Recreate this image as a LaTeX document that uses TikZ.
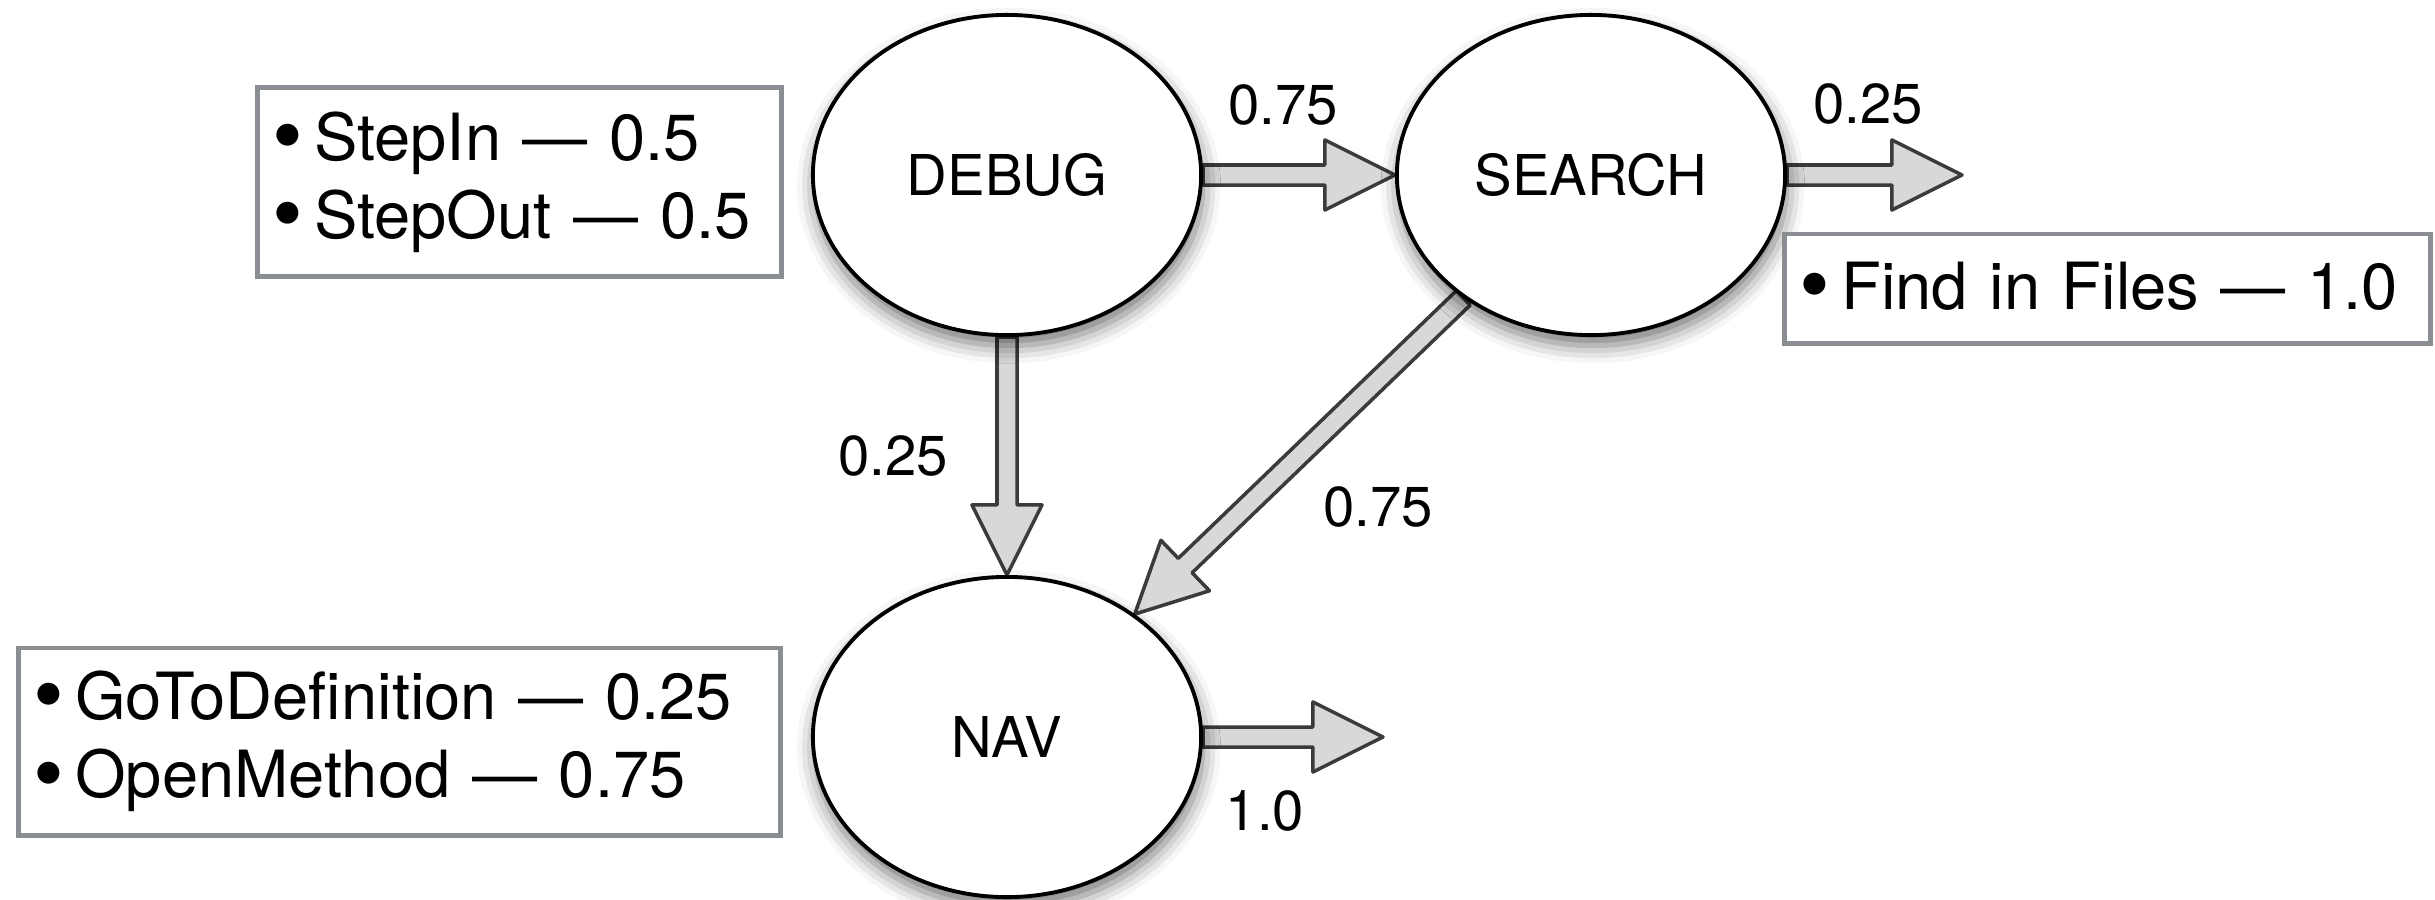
\documentclass[tikz,border=0pt]{standalone}
\usepackage{fontspec}
\setmainfont{TeX Gyre Heros}
\usepackage{tikz}
\usetikzlibrary{calc,shapes.geometric,backgrounds,shadows.blur}
\definecolor{boxGray}{HTML}{8A8E92}
\definecolor{arrowLine}{HTML}{3B3B3B}
\definecolor{arrowFill}{HTML}{D8D8D8}

\tikzset{
  state/.style={ellipse, draw, line width=1.1pt, fill=white,
    minimum width=3.88cm, minimum height=3.2cm, inner sep=0pt,
    font=\fontsize{16}{19}\selectfont,
    blur shadow={shadow xshift=0.5pt, shadow yshift=-3pt,
      shadow blur radius=5pt, shadow opacity=55}},
  weight/.style={font=\fontsize{16}{19}\selectfont, inner sep=0pt},
  infobox/.style={draw=boxGray, line width=1.4pt, fill=white,
    inner xsep=0.15cm, inner ysep=0pt, align=left,
    font=\fontsize{18.5}{22.2}\selectfont},
  flow/.style={draw=arrowLine, fill=arrowFill, line width=1pt, line join=round},
}

% big bullet for the command lists
\newcommand{\dotitem}[1]{\mbox{\raisebox{-1.5pt}{\scalebox{1.35}{\textbullet}}\,#1}}

% block arrow from the border of #1 to the border of #2
\newcommand{\flowarrow}[2]{%
  \path (#1) -- (#2) coordinate[pos=0] (fa) coordinate[pos=1] (fb);
  \coordinate (fh) at ($(fb)!0.7cm!(fa)$);
  \filldraw[flow] ($(fa)!0.1cm!90:(fb)$) -- ($(fh)!0.1cm!90:(fb)$)
    -- ($(fh)!0.35cm!90:(fb)$) -- (fb) -- ($(fh)!0.35cm!-90:(fb)$)
    -- ($(fh)!0.1cm!-90:(fb)$) -- ($(fa)!0.1cm!-90:(fb)$) -- cycle;
}

\begin{document}
\begin{tikzpicture}[x=0.01cm, y=-0.01cm]
  \useasboundingbox (0,0) rectangle (2435,899);
  % ------- states -------
  \node[state] (debug) at (1007,175) {DEBUG};
  \node[state] (search) at (1591,175) {SEARCH};
  \node[state] (nav) at (1007,737) {NAV};
  \coordinate (searchout) at (1962,175);
  \coordinate (navout) at (1383,737);
  % ------- transitions, behind the states -------
  \begin{scope}[on background layer]
    \flowarrow{debug}{search}
    \flowarrow{debug}{nav}
    \flowarrow{search}{nav}
    \flowarrow{search}{searchout}
    \flowarrow{nav}{navout}
  \end{scope}
  % ------- weights -------
  \node[weight] (wds) at (1283,105) {0.75};
  \node[weight] (wso) at (1868,104) {0.25};
  \node[weight] (wdn) at (893,456) {0.25};
  \node[weight] (wsn) at (1378,507) {0.75};
  \node[weight] (wno) at (1265,811) {1.0};
  % ------- commands per state -------
  \node[infobox, text width=4.93cm, minimum height=1.88cm] (debugops) at (519.5,182)
    {\dotitem{StepIn — 0.5}\\ \dotitem{StepOut — 0.5}};
  \node[infobox, text width=6.15cm, minimum height=1.09cm] (searchops) at (2107.5,288.5)
    {\dotitem{Find in Files — 1.0}};
  \node[infobox, text width=7.31cm, minimum height=1.87cm] (navops) at (399.5,741.5)
    {\dotitem{GoToDefinition — 0.25}\\ \dotitem{OpenMethod — 0.75}};
\end{tikzpicture}
\end{document}
